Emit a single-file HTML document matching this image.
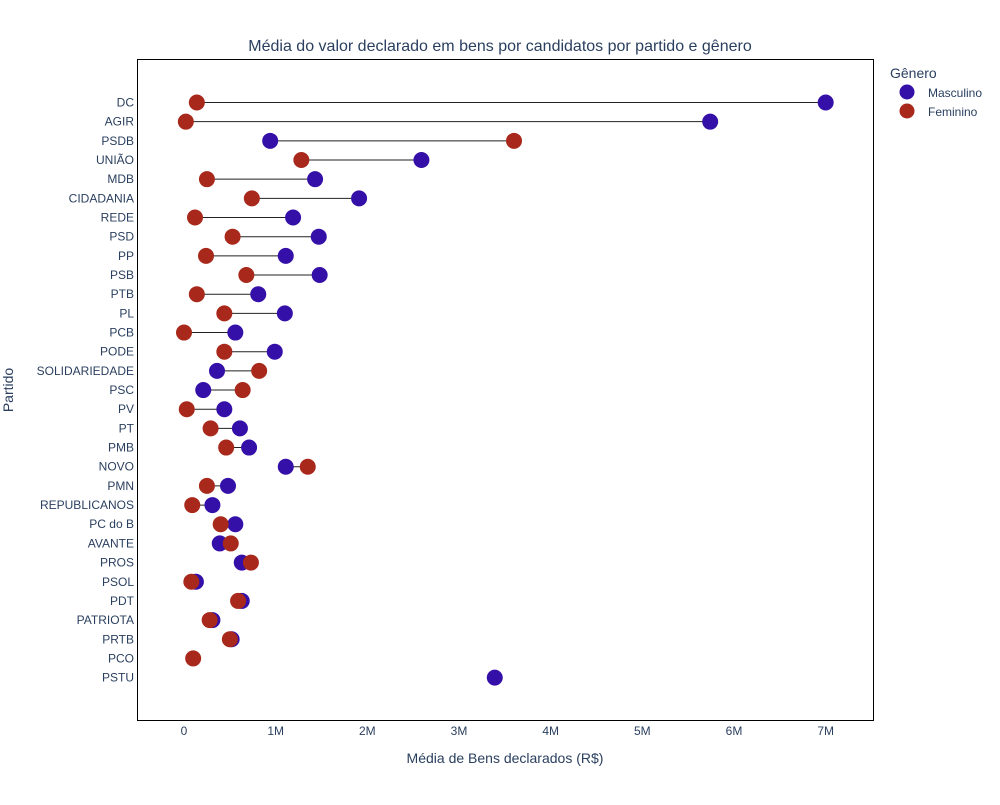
<!DOCTYPE html>
<html><head><meta charset="utf-8"><style>
body{margin:0;background:#fff;font-family:"Liberation Sans",sans-serif;}
svg text{font-family:"Liberation Sans",sans-serif;fill:#2a3f5f;}
</style></head><body>
<svg id="chart" width="1000" height="800">
<text x="500" y="51" text-anchor="middle" font-size="16">Média do valor declarado em bens por candidatos por partido e gênero</text>
<rect x="137.5" y="59.5" width="736" height="661" fill="none" stroke="#000" stroke-width="1"/>
<g id="xticks"></g><g id="yticks"></g><g id="lines"></g><g id="marks"></g>
<text x="505" y="763" text-anchor="middle" font-size="14">Média de Bens declarados (R$)</text>
<text transform="translate(13,390) rotate(-90)" text-anchor="middle" font-size="14">Partido</text>
<g>
<text x="890" y="78" font-size="14">Gênero</text>
<g><circle cx="907" cy="92" r="7.5" fill="#3510a8"/><text x="928" y="97" font-size="12">Masculino</text></g>
<g><circle cx="907" cy="111" r="7.5" fill="#a8291b"/><text x="928" y="116" font-size="12">Feminino</text></g>
</g>
</svg>
<script>
const parties=["DC","AGIR","PSDB","UNIÃO","MDB","CIDADANIA","REDE","PSD","PP","PSB","PTB","PL","PCB","PODE","SOLIDARIEDADE","PSC","PV","PT","PMB","NOVO","PMN","REPUBLICANOS","PC do B","AVANTE","PROS","PSOL","PDT","PATRIOTA","PRTB","PCO","PSTU"];
const masculino=[7.00,5.74,0.94,2.59,1.43,1.91,1.19,1.47,1.11,1.48,0.81,1.10,0.56,0.99,0.36,0.21,0.44,0.61,0.71,1.11,0.48,0.31,0.56,0.39,0.63,0.13,0.63,0.31,0.52,null,3.39];
const feminino=[0.14,0.02,3.60,1.28,0.25,0.74,0.12,0.53,0.24,0.68,0.14,0.44,0.00,0.44,0.82,0.64,0.03,0.29,0.46,1.35,0.25,0.09,0.40,0.51,0.73,0.08,0.59,0.28,0.50,0.10,null];
const xTicks=[0,1,2,3,4,5,6,7];
const xTickLabels=["0","1M","2M","3M","4M","5M","6M","7M"];
const NS="http://www.w3.org/2000/svg";
const X=v=>184+v*91.67;
const Y=i=>102.5+i*19.17;
function mk(tag,attrs,parent){const e=document.createElementNS(NS,tag);for(const k in attrs)e.setAttribute(k,attrs[k]);document.getElementById(parent).appendChild(e);return e;}
xTicks.forEach((t,i)=>{const e=mk("text",{x:X(t),y:735,"text-anchor":"middle","font-size":12},"xticks");e.textContent=xTickLabels[i];

});
parties.forEach((p,i)=>{const e=mk("text",{x:134,y:Y(i)+4,"text-anchor":"end","font-size":12},"yticks");e.textContent=p;


const m=masculino[i],f=feminino[i];
if(m!=null&&f!=null){const l=mk("line",{x1:X(m),x2:X(f),y1:Y(i),y2:Y(i),stroke:"#222","stroke-width":1},"lines");

}
if(m!=null){const c=mk("circle",{cx:X(m),cy:Y(i),r:8,fill:"#3510a8"},"marks");

}
});
parties.forEach((p,i)=>{const f=feminino[i];if(f!=null){const c=mk("circle",{cx:X(f),cy:Y(i),r:8,fill:"#a8291b"},"marks");

}});
</script>
</body></html>
